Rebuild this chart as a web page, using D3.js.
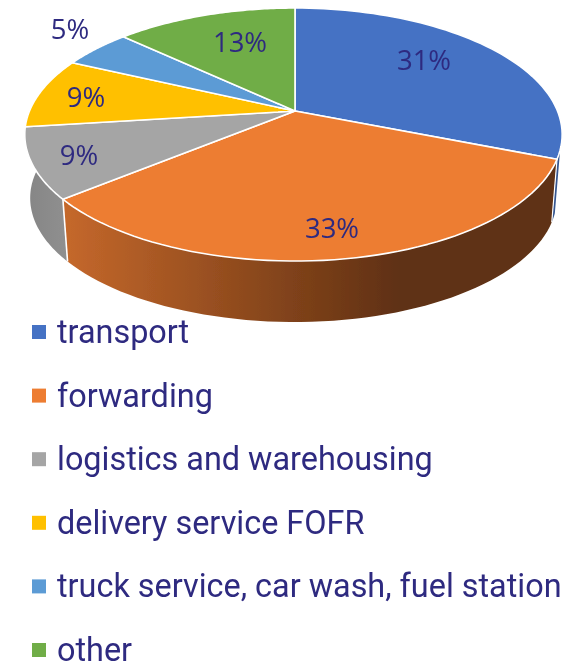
<!DOCTYPE html>
<html><head><meta charset="utf-8">
<script src="https://cdn.jsdelivr.net/npm/d3@7"></script>
<style>html,body{margin:0;padding:0;background:#fff}svg{display:block}text{font-family:Roboto,sans-serif;fill:#2e2a80}</style>
</head><body><svg id="c" width="580" height="663"></svg>
<script>
const categories=["transport","forwarding","logistics and warehousing","delivery service FOFR","truck service, car wash, fuel station","other"];
const values=[31,33,9,9,5,13];
const colors=["#4472c4","#ed7d31","#a5a5a5","#ffc000","#5b9bd5","#70ad47"];
const labelSpots=[[424,59],[332,227],[79,154],[86,96],[70,28],[240,41]];

const svg=d3.select("#c");
const defs=svg.append("defs");
const blur=defs.append("filter").attr("id","soft").attr("x","-5%").attr("y","-5%").attr("width","110%").attr("height","110%");
blur.append("feGaussianBlur").attr("stdDeviation",0.45);
const root=svg.append("g").attr("filter","url(#soft)");

const pie=d3.pie().sort(null).value(d=>d).startAngle(0).endAngle(2*Math.PI);
const arcs=pie(values);

// perspective disc
const cx=295,apexY=111,AR=262.5,AL=265.5,B=101.5,C=-0.186;
function rim(a){const u=Math.sin(a),v=-Math.cos(a),w=1+C*v;return [cx+(u>0?AR:AL)*u/w,(apexY+B*v)/w];}
const S=0.98,Y0=66.2;
function base(a){const p=rim(a);return [cx+(p[0]-cx)*S,p[1]*S+Y0];}
const line=d3.line();
const sample=(a0,a1)=>d3.range(0,61).map(i=>a0+(a1-a0)*i/60);

// side wall gradients
const g1=defs.append("linearGradient").attr("id","sideOrange").attr("gradientUnits","userSpaceOnUse").attr("x1",64).attr("x2",400).attr("y1",0).attr("y2",0);
g1.append("stop").attr("offset",0).attr("stop-color","#c5682b");
g1.append("stop").attr("offset",1).attr("stop-color","#5f3012");
const g2=defs.append("linearGradient").attr("id","sideGray").attr("gradientUnits","userSpaceOnUse").attr("x1",24).attr("x2",66).attr("y1",0).attr("y2",0);
g2.append("stop").attr("offset",0).attr("stop-color","#858585");
g2.append("stop").attr("offset",1).attr("stop-color","#8f8f8f");
const sideFill=["#34558f","url(#sideOrange)","url(#sideGray)"];

// walls visible at the front
const lim=[[arcs[0].endAngle-0.07,arcs[0].endAngle],[arcs[1].startAngle,arcs[1].endAngle],[arcs[2].startAngle,3*Math.PI/2+0.12]];
lim.forEach((l,i)=>{
  const t=sample(l[0],l[1]);
  const pts=t.map(rim).concat(t.slice().reverse().map(base));
  root.append("path").attr("d",line(pts)+"Z").attr("fill",sideFill[i]);
});
// white seams on the walls
root.append("path").attr("d",line([rim(arcs[1].endAngle),base(arcs[1].endAngle)])).attr("stroke","#fff").attr("stroke-width",1.6);
root.append("path").attr("d",line([rim(arcs[0].endAngle),base(arcs[0].endAngle)])).attr("stroke","#fff").attr("stroke-width",1.2);

// top slices
arcs.forEach((d,i)=>{
  const pts=[[cx,apexY]].concat(sample(d.startAngle,d.endAngle).map(rim));
  root.append("path").attr("d",line(pts)+"Z").attr("fill",colors[i]).attr("stroke","#fff").attr("stroke-width",1.6).attr("stroke-linejoin","round");
});

// percentage labels
root.selectAll("text.p").data(values).join("text").attr("class","p")
  .attr("x",(d,i)=>labelSpots[i][0]).attr("y",(d,i)=>labelSpots[i][1])
  .attr("text-anchor","middle").attr("dominant-baseline","central")
  .style("font-family","'Open Sans',sans-serif").attr("font-size",27.5).text(d=>d+"%");

// legend
const ly=d3.scaleLinear().domain([0,5]).range([332,650]);
const lg=root.selectAll("g.l").data(categories).join("g").attr("class","l").attr("transform",(d,i)=>`translate(32,${ly(i)})`);
lg.append("rect").attr("x",0).attr("y",-7).attr("width",14).attr("height",14).attr("fill",(d,i)=>colors[i]);
lg.append("text").attr("x",25).attr("y",11).attr("font-size",32.4).text(d=>d);
</script></body></html>
